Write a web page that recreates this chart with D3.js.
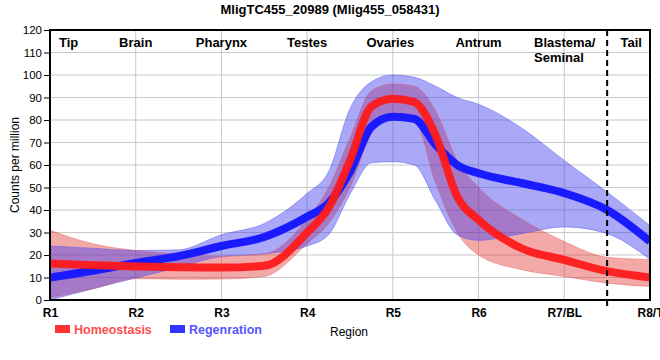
<!DOCTYPE html>
<html><head><meta charset="utf-8">
<script src="https://cdn.jsdelivr.net/npm/d3@7/dist/d3.min.js"></script>
<style>body{margin:0;background:#fff}svg{display:block;font-family:"Liberation Sans",Arial,sans-serif}</style>
</head><body><svg id="c" width="660" height="360"></svg>
<script>
const title = "MligTC455_20989 (Mlig455_058431)";
const tickLabels = ["R1","R2","R3","R4","R5","R6","R7/BL","R8/T"];
const regionLabels = ["Tip","Brain","Pharynx","Testes","Ovaries","Antrum","Blastema/|Seminal","Tail"];
const regionPos = [1.1, 2, 3, 4, 4.97, 6, 6.83, 7.78];
const yTicks = [0,10,20,30,40,50,60,70,80,90,100,110,120];
const pos = [1,1.5,2,2.5,3,3.5,4,4.25,4.5,4.75,5,5.25,5.5,5.75,6,6.5,7,7.5,8];
const homeoMean  = [16.2,15.5,14.9,14.6,14.4,15.2,30,41,62,86,89.5,88,73,46,35.6,23,17.8,12.8,10];
const homeoUpper = [31,25,22,20.5,19.5,20.5,36,50,72,93,96,95,84,62,50,36,26,19,18];
const homeoLower = [1,5,9.5,9.2,9.3,10.5,25,34,50,74,82,80,52,30,20,13.5,10.5,7.5,6];
const regenMean  = [10,13,16.5,19.5,24,28,37,43,57,77,81.5,80.5,69,60,56.3,52,47.5,40,26];
const regenUpper = [24,23,22,22.3,29,34,47.4,57,85,97,100,99,95,90,87,76.5,62,48,33];
const regenLower = [0,5,9.8,14.5,19.3,20.5,24,29,47,61,61.5,60,44,29,26.5,29.5,32.5,29.5,18];
const seriesNames = ["Homeostasis","Regenration"];
const dividerAt = 7.5;

const svg = d3.select("#c");
const L=50,R=650,T=30,B=300;
const x = d3.scaleLinear().domain([1,8]).range([L,R]);
const y = d3.scaleLinear().domain([0,120]).range([B,T]);

svg.append("defs").append("clipPath").attr("id","clip")
  .append("rect").attr("x",L).attr("y",T).attr("width",R-L).attr("height",B-T);

// grid
svg.append("g").selectAll("line").data(yTicks).join("line")
  .attr("x1",L).attr("x2",R).attr("y1",d=>y(d)).attr("y2",d=>y(d))
  .attr("stroke","#c8c8c8").attr("stroke-width",1);
svg.append("g").selectAll("line").data(d3.range(1,9)).join("line")
  .attr("x1",d=>x(d)).attr("x2",d=>x(d)).attr("y1",T).attr("y2",B)
  .attr("stroke","#c8c8c8").attr("stroke-width",1);

const curve = d3.curveMonotoneX;
const pts = (arr)=>pos.map((p,i)=>[p,arr[i]]);
const area = (lo,hi)=>d3.area().curve(curve).x((d,i)=>x(pos[i])).y0((d,i)=>y(lo[i])).y1((d,i)=>y(hi[i]));
const line = d3.line().curve(curve).x(d=>x(d[0])).y(d=>y(d[1]));

const g = svg.append("g").attr("clip-path","url(#clip)");
g.append("path").attr("d",area(homeoLower,homeoUpper)(pos)).attr("fill","rgb(228,50,50)").attr("fill-opacity",0.42);
g.append("path").attr("d",area(regenLower,regenUpper)(pos)).attr("fill","rgb(60,60,240)").attr("fill-opacity",0.44)
  .attr("stroke","rgb(90,90,240)").attr("stroke-opacity",0.5).attr("stroke-width",1);
g.append("path").attr("d",area(homeoLower,homeoUpper)(pos)).attr("fill","none")
  .attr("stroke","rgb(228,80,80)").attr("stroke-opacity",0.4).attr("stroke-width",1);
g.append("path").attr("d",line(pts(regenMean))).attr("fill","none").attr("stroke","#1a1aff").attr("stroke-width",8);
g.append("path").attr("d",line(pts(homeoMean))).attr("fill","none").attr("stroke","#ff1a1a").attr("stroke-opacity",0.95).attr("stroke-width",8);

// divider
svg.append("line").attr("x1",x(dividerAt)).attr("x2",x(dividerAt)).attr("y1",T).attr("y2",B+6)
  .attr("stroke","#000").attr("stroke-width",2).attr("stroke-dasharray","6,4");

// frame
svg.append("rect").attr("x",L).attr("y",T).attr("width",R-L).attr("height",B-T)
  .attr("fill","none").attr("stroke","#000").attr("stroke-width",2);

// y axis
const ya = svg.append("g").attr("transform",`translate(${L},0)`)
  .call(d3.axisLeft(y).tickValues(yTicks).tickSize(6).tickPadding(2));
ya.select(".domain").remove();
ya.selectAll("line").attr("stroke","#000");
ya.selectAll("text").attr("font-size","11.5px").attr("font-family","Liberation Sans, Arial, sans-serif").attr("fill","#000");

// x axis
const xa = svg.append("g").attr("transform",`translate(0,${B})`)
  .call(d3.axisBottom(x).tickValues(d3.range(1,9)).tickFormat((d,i)=>tickLabels[i]).tickSize(0).tickPadding(8));
xa.select(".domain").remove();
xa.selectAll("text").attr("font-size","12px").attr("font-weight","bold").attr("font-family","Liberation Sans, Arial, sans-serif").attr("fill","#000");

// region labels
regionLabels.forEach((lab,i)=>{
  const parts = lab.split("|");
  const px = i===0?59:(i===6?534:x(regionPos[i]));
  const t = svg.append("text").attr("x",px).attr("y",47)
    .attr("text-anchor",(i===0||i===6)?"start":"middle")
    .attr("font-size","13px").attr("font-weight","bold").attr("fill","#000");
  parts.forEach((p,j)=>t.append("tspan").attr("x",px).attr("dy",j===0?0:15).text(p));
});

// title
svg.append("text").attr("x",330).attr("y",14).attr("text-anchor","middle")
  .attr("font-size","13px").attr("font-weight","bold").text(title);

// y label
svg.append("text").attr("transform","translate(19,165) rotate(-90)").attr("text-anchor","middle")
  .attr("font-size","12px").text("Counts per million");
// x label
svg.append("text").attr("x",349).attr("y",336).attr("text-anchor","middle").attr("font-size","12px").text("Region");

// legend
const legColors = ["#ff3333","#3333ff"], legText=["#ff4d4d","#5555ff"], legX=[55,170];
seriesNames.forEach((n,i)=>{
  svg.append("rect").attr("x",legX[i]).attr("y",325).attr("width",15).attr("height",8).attr("fill",legColors[i]);
  svg.append("text").attr("x",legX[i]+19).attr("y",334).attr("font-size","12.5px").attr("font-weight","bold").attr("fill",legText[i]).text(n);
});
</script></body></html>
